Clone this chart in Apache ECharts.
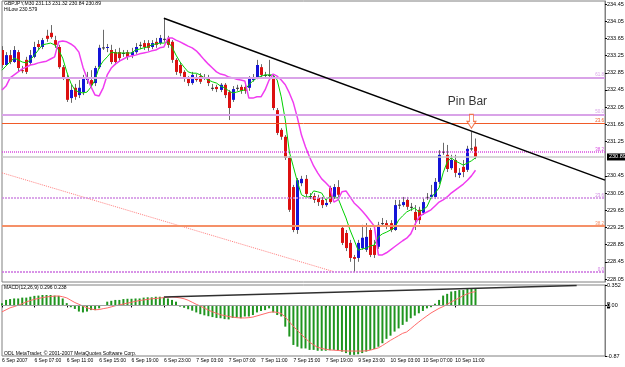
<!DOCTYPE html>
<html>
<head>
<meta charset="utf-8">
<title>GBPJPY M30</title>
<script src="https://cdn.jsdelivr.net/npm/echarts@6/dist/echarts.min.js"></script>
<style>
  html, body { margin: 0; padding: 0; background: #fff; }
  #chart-container { width: 625px; height: 367px; }
</style>
</head>
<body>
<div id="chart-container"></div>
<script>
// bar count on the time axis (empty bars on the right are chart shift)
const barCount = 150;
const barsPerLabel = 8;
const timeLabels = ['6 Sep 2007', '6 Sep 07:00', '6 Sep 11:00', '6 Sep 15:00', '6 Sep 19:00', '6 Sep 23:00',
  '7 Sep 03:00', '7 Sep 07:00', '7 Sep 11:00', '7 Sep 15:00', '7 Sep 19:00', '9 Sep 23:00',
  '10 Sep 03:00', '10 Sep 07:00', '10 Sep 11:00'];

const priceTicks = [228.05, 228.45, 228.85, 229.25, 229.65, 230.05, 230.45, 231.25, 231.65,
  232.05, 232.45, 232.85, 233.25, 233.65, 234.05, 234.45];
const macdTicks = [0.352, 0, -0.87];

// open, close, low, high
const ohlc = [
  [233.38,233.03,232.96,233.47],[233.03,233.26,233.01,233.33],[233.26,233.10,233.05,233.38],[233.10,233.38,233.08,233.47],
  [233.33,232.96,232.87,233.38],[232.91,232.89,232.84,233.01],[233.15,232.87,232.82,233.22],[233.08,233.26,233.03,233.38],
  [233.22,233.45,233.19,233.57],[233.52,233.45,233.38,233.61],[233.45,233.61,233.40,233.66],[233.71,233.64,233.57,233.85],
  [233.78,233.68,233.64,233.96],[233.61,233.50,233.43,233.71],[233.45,232.98,232.94,233.50],[232.98,232.75,232.68,233.03],
  [232.75,232.22,232.17,232.80],[232.26,232.45,232.15,232.57],[232.50,232.29,232.22,232.59],[232.33,232.50,232.26,232.68],
  [232.40,232.75,232.33,232.80],[232.68,232.71,232.59,232.87],[232.68,232.57,232.50,232.91],[232.61,232.96,232.54,233.01],
  [232.98,233.43,232.94,233.50],[233.43,233.44,233.38,233.85],[233.43,233.45,233.33,233.52],[233.38,233.10,233.05,233.50],
  [233.33,233.10,233.03,233.40],[233.33,233.19,233.10,233.43],[233.31,233.31,233.22,233.38],[233.33,233.22,233.15,233.38],
  [233.26,233.33,233.19,233.43],[233.33,233.45,233.29,233.54],[233.50,233.50,233.40,233.57],[233.54,233.45,233.38,233.61],
  [233.54,233.43,233.36,233.61],[233.45,233.54,233.40,233.61],[233.57,233.50,233.43,233.66],[233.54,233.66,233.50,233.73],
  [233.64,233.64,233.57,234.12],[233.66,233.50,233.43,233.71],[233.57,233.15,233.08,233.61],[233.15,232.87,232.80,233.19],
  [233.03,232.84,232.77,233.10],[232.87,232.73,232.64,232.91],[232.73,232.61,232.54,232.77],[232.61,232.80,232.57,232.87],
  [232.75,232.68,232.64,232.82],[232.77,232.64,232.59,232.84],[232.73,232.73,232.68,232.82],[232.73,232.61,232.54,232.80],
  [232.50,232.49,232.43,232.59],[232.52,232.47,232.40,232.57],[232.45,232.57,232.40,232.61],[232.57,232.33,232.26,232.61],
  [232.40,232.03,231.75,232.45],[232.22,232.47,232.17,232.54],[232.50,232.49,232.43,232.57],[232.52,232.43,232.36,232.57],
  [232.52,232.43,232.36,232.59],[232.50,232.73,232.43,232.77],[232.68,232.75,232.64,232.82],[232.75,233.03,232.70,233.15],
  [232.98,232.80,232.73,233.05],[232.80,232.80,232.73,232.87],[232.80,232.79,232.73,233.15],[232.73,232.03,231.98,232.80],
  [231.98,231.45,231.40,232.03],[231.52,231.36,231.29,231.56],[231.36,230.87,230.82,231.40],[230.87,229.66,229.61,230.91],
  [230.19,229.19,229.14,230.24],[229.19,230.35,229.10,230.40],[230.28,230.38,230.21,230.45],[230.38,230.03,229.96,230.47],
  [229.98,229.98,229.91,230.05],[229.98,229.89,229.82,230.05],[229.94,229.84,229.75,230.01],[229.89,229.77,229.70,229.96],
  [229.77,229.82,229.73,229.89],[230.17,229.84,229.80,230.22],[229.96,230.19,229.91,230.26],[230.19,230.01,229.94,230.35],
  [229.24,228.89,228.84,229.28],[229.12,228.77,228.70,229.19],[228.89,228.54,228.45,228.96],[228.56,228.52,228.21,228.61],
  [228.54,228.89,228.45,228.96],[228.77,229.01,228.73,229.31],[228.73,229.03,228.68,229.35],[229.19,228.61,228.56,229.24],
  [228.84,228.61,228.54,228.96],[228.80,229.31,228.75,229.38],[229.35,229.35,229.28,229.47],[229.35,229.26,229.21,229.42],
  [229.35,229.19,229.14,229.42],[229.19,229.77,229.17,229.89],[229.77,229.78,229.68,229.89],[229.77,229.84,229.73,229.96],
  [229.89,229.73,229.66,229.96],[229.73,229.72,229.63,229.82],[229.61,229.42,229.19,229.77],[229.66,229.42,229.33,229.73],
  [229.59,229.84,229.54,229.94],[229.96,229.96,229.89,230.05],[229.96,230.01,229.91,230.24],[229.96,230.31,229.91,230.40],
  [230.31,230.94,230.26,231.05],[231.01,231.01,230.94,231.22],[230.94,230.61,230.54,231.17],[230.63,230.82,230.59,230.94],
  [230.82,230.52,230.42,230.94],[230.47,230.52,230.40,230.63],[230.66,230.54,230.42,230.82],[230.59,231.08,230.54,231.15],
  [231.08,231.09,231.03,231.47],[231.13,230.89,230.84,231.32]
];

const fastMa = [
  232.91,233.01,233.10,233.19,233.15,233.10,233.08,233.15,233.26,233.38,
  233.50,233.52,233.54,233.50,233.38,233.19,232.87,232.61,232.45,232.40,
  232.38,232.40,232.52,232.68,232.98,233.12,233.22,233.33,233.31,233.31,
  233.31,233.31,233.31,233.38,233.40,233.43,233.45,233.50,233.52,233.54,
  233.54,233.57,233.45,233.26,233.10,232.98,232.87,232.84,232.84,232.80,
  232.73,232.68,232.64,232.61,232.54,232.50,232.43,232.38,232.40,232.43,
  232.45,232.57,232.66,232.73,232.77,232.80,232.80,232.80,232.68,232.29,
  231.75,231.01,230.66,230.31,230.01,229.96,229.96,230.10,230.08,230.05,
  229.89,229.96,229.96,229.94,229.70,229.47,229.19,228.96,228.72,228.75,
  228.77,228.82,228.84,229.03,229.10,229.14,229.19,229.24,229.42,229.52,
  229.61,229.66,229.70,229.61,229.66,229.73,229.94,230.05,230.17,230.52,
  230.77,230.87,230.80,230.75,230.70,230.75,230.80,230.87
];

const hiLow = [
  232.45,232.54,232.73,232.80,232.87,232.94,232.98,233.03,233.05,233.08,
  233.10,233.12,233.17,233.22,233.57,233.59,233.57,233.52,233.45,233.33,
  232.98,232.73,232.52,232.33,232.31,232.50,232.80,232.96,233.05,233.12,
  233.17,233.22,233.24,233.26,233.29,233.31,233.33,233.36,233.38,233.43,
  233.45,233.66,233.66,233.61,233.57,233.52,233.47,233.43,233.36,233.26,
  233.15,233.05,232.96,232.87,232.82,232.80,232.75,232.73,232.70,232.68,
  232.66,232.26,232.26,232.29,232.29,232.45,232.68,232.82,232.77,232.68,
  232.57,232.38,232.15,231.80,231.40,231.12,230.89,230.68,230.52,230.38,
  230.29,230.19,229.84,229.89,230.08,230.10,229.96,229.82,229.73,229.63,
  229.52,229.40,229.28,228.61,228.61,228.66,228.73,228.80,228.87,228.94,
  229.00,229.10,229.31,229.49,229.56,229.61,229.66,229.75,229.84,229.89,
  229.96,230.05,230.12,230.19,230.26,230.35,230.45,230.58
];

const macdHist = [
  0.04,0.095,0.11,0.12,0.12,0.135,0.135,0.15,0.165,0.17,0.18,0.18,0.18,0.17,0.165,0.12,0.04,
  -0.03,-0.06,-0.105,-0.12,-0.105,-0.08,-0.08,-0.05,-0.005,
  0.065,0.08,0.095,0.095,0.11,0.115,0.115,0.12,0.12,0.135,0.14,0.14,0.15,0.15,0.135,0.12,0.095,0.065,
  -0.02,-0.04,-0.065,-0.09,-0.12,-0.15,-0.17,-0.185,-0.2,-0.215,-0.22,-0.235,-0.24,-0.215,-0.21,-0.22,
  -0.19,-0.19,-0.165,-0.12,-0.095,-0.08,-0.05,-0.12,-0.165,-0.19,-0.365,-0.535,-0.68,-0.71,
  -0.74,-0.74,-0.765,-0.765,-0.78,-0.78,-0.78,-0.77,-0.765,-0.78,-0.795,-0.82,-0.85,-0.85,-0.84,-0.82,
  -0.795,-0.765,-0.75,-0.71,-0.65,-0.575,-0.52,-0.45,-0.395,-0.335,-0.28,-0.22,-0.175,-0.135,-0.095,
  -0.05,-0.03,0.03,0.095,0.17,0.2,0.24,0.25,0.265,0.265,0.285,0.29,0.296
];

const macdSignal = [
  -0.11,-0.075,-0.04,-0.02,0.005,0.03,0.06,0.085,0.105,0.12,
  0.135,0.146,0.155,0.16,0.163,0.15,0.13,0.09,0.05,0.02,
  -0.01,-0.04,-0.06,-0.075,-0.07,-0.055,-0.043,-0.025,-0.005,0.01,
  0.025,0.04,0.055,0.07,0.085,0.095,0.105,0.115,0.12,0.128,
  0.135,0.14,0.146,0.14,0.13,0.115,0.09,0.055,0.02,-0.01,
  -0.045,-0.08,-0.11,-0.135,-0.16,-0.175,-0.19,-0.2,-0.21,-0.215,
  -0.215,-0.21,-0.2,-0.18,-0.16,-0.14,-0.12,-0.11,-0.12,
  -0.14,-0.2,-0.28,-0.36,-0.43,-0.5,-0.57,-0.63,-0.68,-0.72,-0.74,-0.755,-0.765,-0.77,-0.775,
  -0.78,-0.783,-0.785,-0.785,-0.785,-0.785,-0.78,-0.77,-0.75,-0.73,-0.69,-0.645,-0.6,-0.56,-0.52,
  -0.48,-0.456,-0.4,-0.34,-0.284,-0.23,-0.18,-0.13,-0.09,-0.05,-0.02,0.02,0.06,0.095,0.13,0.17,
  0.2,0.225,0.238
];

// drawn objects: [bar index, price]
const priceTrend = [[40, 234.12], [149, 230.35]];
const supportDots = [[0, 230.52], [82, 228.22]];
const macdTrend = [[40, 0.146], [142, 0.345]];
const pinBarArrow = [[116, 231.72]];
const pinBarNote = [[115, 232.17]];

const fibPurple = [['61.8', 232.74], ['50.0', 231.875], ['38.2', 231.01], ['23.6', 229.94], ['0.0', 228.21]];
const fibOrange = [['23.6', 231.68], ['38.2', 229.28]];
const lastPrice = 230.89;

const UP = '#1414d8', DOWN = '#dc1010', DOJI = '#303030', WICK = '#6a6a6a';
const FONT = 'Liberation Sans';

const categories = Array.from({ length: barCount }, (_, i) => String(i));
const isLabelBar = (i) => i % barsPerLabel === 0 && i / barsPerLabel < timeLabels.length;

function renderCandle(params, api) {
  const i = api.value(0);
  const o = api.value(1), c = api.value(2), lo = api.value(3), hi = api.value(4);
  const pO = api.coord([i, o]);
  const pC = api.coord([i, c]);
  const pL = api.coord([i, lo]);
  const pH = api.coord([i, hi]);
  const x = Math.round(pO[0]) + 0.5;
  const top = Math.min(pO[1], pC[1]);
  const h = Math.max(Math.abs(pO[1] - pC[1]), 1);
  let fill = DOJI;
  if (c - o > 0.015) fill = UP;
  else if (o - c > 0.015) fill = DOWN;
  return {
    type: 'group',
    children: [
      { type: 'line', shape: { x1: x, y1: pH[1], x2: x, y2: pL[1] }, style: { stroke: WICK, lineWidth: 1 } },
      { type: 'rect', shape: { x: x - 1.5, y: top, width: 3, height: h }, style: { fill: fill } }
    ]
  };
}

const purpleStyles = [
  { color: '#d9a3e8', width: 2, type: 'solid' },
  { color: '#d9a3e8', width: 2, type: 'solid' },
  { color: '#d84ce0', width: 1.5, type: [1, 1] },
  { color: '#d08ae2', width: 1.5, type: [2, 1] },
  { color: '#cc70e0', width: 1.5, type: [2, 1] }
];
const orangeStyles = [
  { color: '#f05a28', width: 1, type: 'solid' },
  { color: '#f59068', width: 2, type: 'solid' }
];

function fibLine(item, st) {
  return {
    yAxis: item[1],
    lineStyle: st,
    label: {
      show: true, position: 'insideEndTop', formatter: item[0], distance: [1, 0],
      fontSize: 4.5, fontFamily: FONT, color: st.color
    }
  };
}

const fibMarks = fibPurple.map((f, k) => fibLine(f, purpleStyles[k]))
  .concat(fibOrange.map((f, k) => fibLine(f, orangeStyles[k])));
fibMarks.push({
  yAxis: lastPrice,
  lineStyle: { color: '#c8c8c8', width: 1.5, type: 'solid' },
  label: {
    show: true, position: 'end', distance: 2, formatter: lastPrice.toFixed(2),
    fontSize: 5.5, fontFamily: FONT, color: '#fff', backgroundColor: '#000', padding: [1, 2, 0, 2]
  }
});

const last = ohlc[ohlc.length - 1];
const headerText = 'GBPJPY,M30 ' + [last[0], last[3], last[2], last[1]].map(v => v.toFixed(2)).join(' ');

const chartContainer = document.getElementById('chart-container');
const myChart = echarts.init(chartContainer, null, { renderer: 'canvas' });

const axisGray = '#808080';

const options = {
  backgroundColor: '#ffffff',
  animation: false,
  grid: [
    { left: 2, right: 20, top: 1, height: 281, show: true, borderColor: axisGray, borderWidth: 1, outerBoundsMode: 'none' },
    { left: 2, right: 20, top: 285, height: 71, show: true, borderColor: axisGray, borderWidth: 1, outerBoundsMode: 'none' }
  ],
  xAxis: [
    { type: 'category', gridIndex: 0, data: categories, boundaryGap: false, show: false },
    {
      type: 'category', gridIndex: 1, data: categories, boundaryGap: false,
      axisLine: { show: true, lineStyle: { color: axisGray } },
      axisTick: { show: true, interval: isLabelBar, length: 2, lineStyle: { color: '#000' } },
      axisLabel: {
        interval: isLabelBar, align: 'left', margin: 2,
        fontSize: 5, fontFamily: FONT, color: '#000',
        formatter: (value, index) => timeLabels[index / barsPerLabel]
      },
      splitLine: { show: false }
    }
  ],
  yAxis: [
    {
      type: 'value', gridIndex: 0, position: 'right', min: 227.98, max: 234.52, scale: true,
      axisLine: { show: true, lineStyle: { color: axisGray } },
      axisTick: { show: true, length: 2, customValues: priceTicks, lineStyle: { color: '#000' } },
      axisLabel: {
        customValues: priceTicks, margin: 2, fontSize: 5.5, fontFamily: FONT, color: '#000',
        formatter: v => v.toFixed(2)
      },
      splitLine: { show: false }
    },
    {
      type: 'value', gridIndex: 1, position: 'right', min: -0.87, max: 0.352,
      axisLine: { show: true, lineStyle: { color: axisGray } },
      axisTick: { show: true, length: 2, customValues: macdTicks, lineStyle: { color: '#000' } },
      axisLabel: {
        customValues: macdTicks, margin: 2, fontSize: 5.5, fontFamily: FONT, color: '#000',
        formatter: v => (v === 0 ? '{b|0}{n|.00}' : String(v)),
        rich: {
          b: { backgroundColor: '#000', color: '#fff', fontSize: 5.5, fontFamily: FONT },
          n: { color: '#000', fontSize: 5.5, fontFamily: FONT }
        }
      },
      splitLine: { show: false }
    }
  ],
  graphic: [
    { type: 'text', left: 4, top: 1, style: { text: headerText, fontSize: 5, fontFamily: FONT, fill: '#000' } },
    { type: 'text', left: 4, top: 7, style: { text: 'HiLow 230.579', fontSize: 5, fontFamily: FONT, fill: '#000' } },
    { type: 'text', left: 4, top: 285, style: { text: 'MACD(12,26,9) 0.296 0.238', fontSize: 5, fontFamily: FONT, fill: '#000' } },
    { type: 'text', left: 4, top: 351, style: { text: 'ODL MetaTrader, © 2001-2007 MetaQuotes Software Corp.', fontSize: 5, fontFamily: FONT, fill: '#000' } }
  ],
  series: [
    {
      name: 'support', type: 'line', xAxisIndex: 0, yAxisIndex: 0, z: 1,
      data: supportDots, showSymbol: false, silent: true,
      lineStyle: { color: '#ff7f7f', width: 1, type: [1, 1] },
      markLine: { symbol: 'none', silent: true, animation: false, data: fibMarks }
    },
    {
      name: 'candles', type: 'custom', xAxisIndex: 0, yAxisIndex: 0, z: 3, clip: true,
      renderItem: renderCandle,
      encode: { x: 0, y: [1, 2, 3, 4] },
      data: ohlc.map((d, i) => [i, d[0], d[1], d[2], d[3]])
    },
    {
      name: 'fast', type: 'line', xAxisIndex: 0, yAxisIndex: 0, z: 4,
      data: fastMa, showSymbol: false, silent: true,
      lineStyle: { color: '#00d000', width: 1 }
    },
    {
      name: 'HiLow', type: 'line', xAxisIndex: 0, yAxisIndex: 0, z: 4,
      data: hiLow, showSymbol: false, silent: true,
      lineStyle: { color: '#f03cf0', width: 1.5 }
    },
    {
      name: 'trend', type: 'line', xAxisIndex: 0, yAxisIndex: 0, z: 5,
      data: priceTrend, showSymbol: false, silent: true,
      lineStyle: { color: '#000', width: 1.5 }
    },
    {
      name: 'arrow', type: 'scatter', xAxisIndex: 0, yAxisIndex: 0, z: 6, silent: true,
      data: pinBarArrow,
      symbol: 'path://M2.5,0 H6.5 V7 H9 L4.5,14 L0,7 H2.5 Z',
      symbolSize: [9, 14],
      itemStyle: { color: '#ffffff', borderColor: '#f05a28', borderWidth: 1 }
    },
    {
      name: 'note', type: 'scatter', xAxisIndex: 0, yAxisIndex: 0, z: 6, silent: true,
      data: pinBarNote, symbolSize: 1,
      itemStyle: { color: 'rgba(0,0,0,0)' },
      label: { show: true, position: 'inside', formatter: 'Pin Bar', fontSize: 12, fontFamily: FONT, color: '#000' }
    },
    {
      name: 'MACD', type: 'bar', xAxisIndex: 1, yAxisIndex: 1, z: 2,
      data: macdHist, barWidth: 2, silent: true,
      itemStyle: { color: '#1f951f' },
      markLine: {
        symbol: 'none', silent: true, animation: false,
        data: [{ yAxis: 0, lineStyle: { color: '#a0a0a0', width: 1, type: 'solid' }, label: { show: false } }]
      }
    },
    {
      name: 'Signal', type: 'line', xAxisIndex: 1, yAxisIndex: 1, z: 3,
      data: macdSignal, showSymbol: false, silent: true,
      lineStyle: { color: '#ff6a6a', width: 1 }
    },
    {
      name: 'macdTrend', type: 'line', xAxisIndex: 1, yAxisIndex: 1, z: 4,
      data: macdTrend, showSymbol: false, silent: true,
      lineStyle: { color: '#303030', width: 1.5 }
    }
  ]
};

myChart.setOption(options);

window.addEventListener('resize', function () {
  myChart.resize();
});
</script>
</body>
</html>
